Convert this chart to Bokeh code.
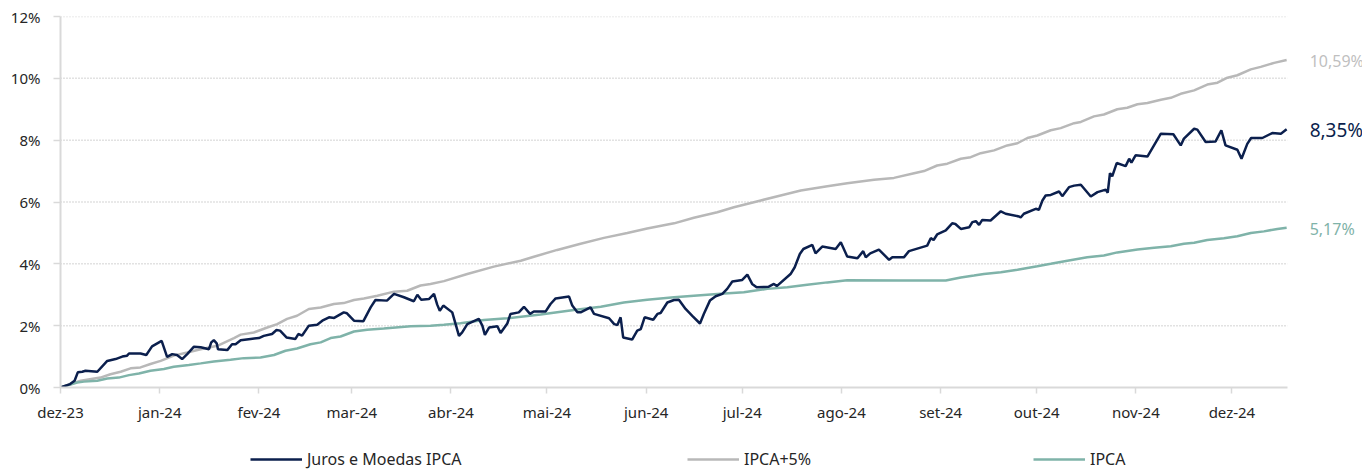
from bokeh.plotting import figure
from bokeh.models import Range1d, FixedTicker, Legend, LegendItem, Label
from bokeh.layouts import column
from bokeh.embed import file_html
from bokeh.resources import INLINE

# ---- data (x = days since 2023-12-01, y = accumulated return in %) ----
month_ticks = [0, 31, 62, 91, 122, 152, 183, 213, 244, 275, 305, 336, 366]
month_labels = ["dez-23", "jan-24", "fev-24", "mar-24", "abr-24", "mai-24", "jun-24",
                "jul-24", "ago-24", "set-24", "out-24", "nov-24", "dez-24"]
y_ticks = [0, 2, 4, 6, 8, 10, 12]
y_labels = ["0%", "2%", "4%", "6%", "8%", "10%", "12%"]

juros_day = [0, 3, 4.4, 5.4, 6.8, 7.8, 11.5, 14.6, 17.2, 19.3,
             20.8, 21.4, 25, 26.8, 28.6, 31.6, 33.3, 34.9, 36.4, 38,
             39.6, 41.7, 43.8, 46.4, 47.1, 47.9, 48.8, 49.2, 52.1, 53.6,
             54.7, 56.3, 59.4, 62, 63.5, 66.1, 67.5, 68.6, 70.6, 73.4,
             74.3, 75.5, 77.6, 80.2, 81.8, 83.9, 85.5, 88.5, 89.5, 91.7,
             94.6, 96.9, 98.4, 102, 104.2, 107.3, 110.4, 111.5, 112.7, 115.1,
             116.7, 117.7, 118.5, 119.6, 122.4, 124.5, 125.5, 127.1, 130.7, 131.8,
             132.6, 133.9, 136.5, 137.5, 139.6, 140.6, 143.2, 144.8, 146.7, 147.9,
             151.6, 153.1, 154.7, 158.9, 159.9, 161.5, 162.5, 165.6, 166.7, 171.4,
             173, 174, 175, 175.8, 178.6, 180.2, 181.3, 182.5, 185.2, 186.5,
             187.5, 189.6, 191.7, 193.2, 195.3, 197.4, 199.8, 201, 202.9, 204.7,
             206.8, 208.3, 209.9, 213, 214.6, 216.1, 217.5, 221.3, 222.9, 223.8,
             228.1, 229.4, 231, 232.1, 234.9, 235.9, 238, 242.2, 243.8, 245.8,
             249, 250.8, 251.6, 253, 255.7, 258.9, 259.9, 263.5, 265.1, 270.8,
             271.9, 272.8, 273.9, 276.6, 278.6, 279.6, 281.3, 283.9, 284.9, 286,
             287, 288, 290.6, 293.8, 295.3, 299.5, 300, 301, 304.7, 305.7,
             306.8, 307.8, 309.4, 312, 313, 315.1, 316.7, 318.8, 321.9, 324,
             326.6, 327.2, 327.9, 328.6, 330, 332.8, 333.9, 334.6, 335.9, 339.6,
             343.8, 347.7, 350, 351, 354.2, 355.2, 357.8, 360.9, 362.7, 364,
             367.7, 369, 370.8, 372, 375.5, 378.6, 381.3, 383.1]
juros_val = [0, 0.11, 0.22, 0.49, 0.51, 0.54, 0.51, 0.86, 0.92, 1.0,
             1.03, 1.1, 1.1, 1.05, 1.33, 1.51, 0.99, 1.08, 1.05, 0.92,
             1.08, 1.32, 1.30, 1.24, 1.46, 1.53, 1.43, 1.24, 1.21, 1.40,
             1.40, 1.53, 1.57, 1.60, 1.67, 1.73, 1.86, 1.84, 1.62, 1.57,
             1.73, 1.68, 2.0, 2.03, 2.16, 2.27, 2.25, 2.43, 2.40, 2.16,
             2.14, 2.59, 2.83, 2.81, 3.03, 2.92, 2.79, 3.0, 2.84, 2.86,
             3.03, 2.68, 2.48, 2.65, 2.43, 1.67, 1.78, 2.05, 2.22, 2.0,
             1.70, 1.94, 1.98, 1.76, 2.07, 2.38, 2.43, 2.61, 2.38, 2.46,
             2.46, 2.70, 2.88, 2.94, 2.65, 2.43, 2.43, 2.59, 2.38, 2.24,
             2.05, 2.02, 2.27, 1.62, 1.55, 1.84, 1.89, 2.27, 2.19, 2.38,
             2.41, 2.75, 2.83, 2.84, 2.54, 2.32, 2.07, 2.38, 2.81, 2.95,
             3.03, 3.19, 3.43, 3.48, 3.65, 3.35, 3.24, 3.26, 3.35, 3.28,
             3.67, 3.89, 4.32, 4.48, 4.61, 4.34, 4.56, 4.48, 4.70, 4.24,
             4.18, 4.41, 4.21, 4.34, 4.46, 4.13, 4.21, 4.21, 4.41, 4.59,
             4.83, 4.77, 4.95, 5.08, 5.31, 5.29, 5.13, 5.18, 5.35, 5.38,
             5.26, 5.42, 5.40, 5.70, 5.62, 5.53, 5.50, 5.62, 5.78, 5.75,
             6.05, 6.21, 6.23, 6.34, 6.19, 6.48, 6.53, 6.56, 6.18, 6.32,
             6.40, 6.30, 6.93, 6.83, 7.26, 7.16, 7.40, 7.27, 7.51, 7.47,
             8.21, 8.19, 7.83, 8.05, 8.37, 8.34, 7.94, 7.96, 8.32, 7.83,
             7.69, 7.40, 7.88, 8.07, 8.07, 8.23, 8.21, 8.35]

ipca5_day = [0, 6.3, 12.5, 15.6, 18.8, 21.9, 25, 28.1, 31.3, 35.4,
             39.6, 43.8, 49, 54.2, 56.3, 60.4, 64.6, 67.7, 70.8, 73.9,
             77.6, 81.3, 85.4, 88.5, 91.7, 94.8, 99, 104.2, 108.3, 112.5,
             115.6, 119.8, 127.1, 135.4, 143.8, 147.9, 155.2, 162.5, 169.8, 177.1,
             183.3, 191.7, 197.9, 205.2, 210.4, 218.8, 225, 231.3, 239.6, 245.8,
             254.2, 260.4, 266.7, 269.8, 273.9, 277.1, 281.3, 284.4, 287.5, 291.7,
             295.8, 299, 302.1, 305.2, 309.4, 312.5, 316.7, 318.8, 322.9, 326,
             330.2, 333.3, 336.5, 339.6, 343.8, 346.9, 350, 354.2, 358.3, 361.5,
             364.6, 367.7, 371.9, 375, 379.2, 383.1]
ipca5_val = [0, 0.22, 0.32, 0.43, 0.51, 0.62, 0.65, 0.76, 0.86, 1.03,
             1.13, 1.24, 1.35, 1.60, 1.71, 1.78, 1.94, 2.05, 2.22, 2.32,
             2.54, 2.59, 2.70, 2.73, 2.83, 2.88, 2.97, 3.10, 3.13, 3.30,
             3.35, 3.44, 3.67, 3.91, 4.10, 4.23, 4.45, 4.65, 4.84, 5.00,
             5.14, 5.31, 5.49, 5.67, 5.83, 6.05, 6.21, 6.37, 6.51, 6.61,
             6.72, 6.78, 6.93, 7.00, 7.18, 7.24, 7.40, 7.45, 7.58, 7.67,
             7.83, 7.90, 8.07, 8.15, 8.32, 8.39, 8.55, 8.59, 8.77, 8.83,
             9.0, 9.05, 9.16, 9.20, 9.31, 9.37, 9.50, 9.61, 9.80, 9.86,
             10.02, 10.10, 10.29, 10.37, 10.50, 10.59]

ipca_day = [0, 5.2, 7.3, 11.5, 14.6, 18.2, 21.4, 24.5, 28.1, 32.3,
            35.4, 40.1, 43.8, 47.9, 53.1, 57.3, 62.5, 66.7, 70.3, 73.9,
            78.1, 81.3, 84.4, 87.5, 91.7, 95.8, 101, 109.4, 115.6, 119.8,
            125, 132.3, 139.6, 150, 160.4, 168.8, 176, 183.3, 191.7, 197.9,
            206.3, 213.5, 220.8, 227.1, 233.3, 239.6, 245.8, 262.5, 276.6, 281.3,
            285.4, 288.5, 293.8, 299, 305.2, 309.4, 314.6, 320.8, 326, 330.2,
            336.5, 341.7, 346.9, 351, 354.2, 358.3, 363.5, 367.7, 371.9, 376,
            380.2, 383.1]
ipca_val = [0, 0.16, 0.19, 0.22, 0.29, 0.32, 0.40, 0.45, 0.54, 0.60,
            0.67, 0.73, 0.78, 0.84, 0.90, 0.95, 0.97, 1.05, 1.19, 1.26,
            1.40, 1.46, 1.60, 1.65, 1.81, 1.87, 1.91, 1.98, 2.00, 2.03,
            2.08, 2.18, 2.24, 2.36, 2.51, 2.61, 2.75, 2.84, 2.92, 2.97,
            3.03, 3.08, 3.19, 3.24, 3.32, 3.40, 3.47, 3.46, 3.46, 3.56,
            3.62, 3.67, 3.73, 3.81, 3.92, 4.00, 4.10, 4.21, 4.27, 4.37,
            4.46, 4.52, 4.57, 4.65, 4.68, 4.77, 4.83, 4.89, 5.00, 5.05,
            5.13, 5.17]

series_names = ["Juros e Moedas IPCA", "IPCA+5%", "IPCA"]
end_labels = ["8,35%", "10,59%", "5,17%"]

# ---- styling ----
NAVY = "#0b1f4d"
GRAY = "#b8b8b8"
TEAL = "#7fb3a9"
FONT = "Noto Sans"
TXT = "#262626"
AXIS_END = 383.4          # where axis line and gridlines stop (days)
VIEW_END = 406.8          # visible x extent (room for end labels)

p = figure(width=1362, height=430, output_backend="svg", toolbar_location=None,
           x_range=Range1d(0, VIEW_END), y_range=Range1d(0, 12),
           min_border_left=60, min_border_right=0, min_border_top=16, min_border_bottom=43)
p.outline_line_color = None
p.background_fill_color = "white"
p.border_fill_color = "white"

p.xgrid.grid_line_color = None
p.ygrid.grid_line_color = None
# dotted horizontal gridlines limited to the axis extent
p.segment(x0=0, x1=AXIS_END, y0=y_ticks[1:], y1=y_ticks[1:],
          line_color="#c4c4c4", line_dash="1 2", line_width=1.5)

p.xaxis.ticker = FixedTicker(ticks=month_ticks)
p.xaxis.major_label_overrides = {t: l for t, l in zip(month_ticks, month_labels)}
p.xaxis.bounds = (0, AXIS_END)
p.yaxis.ticker = FixedTicker(ticks=y_ticks)
p.yaxis.major_label_overrides = {t: l for t, l in zip(y_ticks, y_labels)}

for ax in (p.xaxis, p.yaxis):
    ax.axis_line_color = "#d9d9d9"
    ax.axis_line_width = 2
    ax.major_tick_line_color = "#d9d9d9"
    ax.major_tick_line_width = 1.5
    ax.major_tick_in = 0
    ax.minor_tick_line_color = None
    ax.major_label_text_font = FONT
    ax.major_label_text_font_size = "15px"
    ax.major_label_text_color = TXT
p.xaxis.major_tick_out = 6
p.xaxis.major_label_standoff = 8
p.yaxis.major_tick_out = 7
p.yaxis.major_label_standoff = 13

r_gray = p.line(ipca5_day, ipca5_val, line_color=GRAY, line_width=2.5)
r_teal = p.line(ipca_day, ipca_val, line_color=TEAL, line_width=2.5)
r_navy = p.line(juros_day, juros_val, line_color=NAVY, line_width=2.5)

# end-of-line value labels
for xs, ys, txt, col, size in [(juros_day, juros_val, end_labels[0], NAVY, "19px"),
                                (ipca5_day, ipca5_val, end_labels[1], "#bfbfbf", "16px"),
                                (ipca_day, ipca_val, end_labels[2], TEAL, "16px")]:
    p.add_layout(Label(x=xs[-1], y=ys[-1], text=txt, x_offset=23, y_offset=-1,
                       text_baseline="middle", text_align="left",
                       text_font=FONT, text_font_size=size, text_color=col))

# ---- legend strip (separate small figure below the chart; frames are aligned) ----
lg = figure(width=1362, height=39, output_backend="svg", toolbar_location=None,
            x_range=Range1d(0, 1), y_range=Range1d(0, 1),
            x_axis_type=None, y_axis_type=None,
            min_border_left=0, min_border_right=0, min_border_top=0, min_border_bottom=0)
lg.outline_line_color = None
lg.xgrid.grid_line_color = None
lg.ygrid.grid_line_color = None

for name, col, xpos in [(series_names[0], NAVY, 190),
                        (series_names[1], GRAY, 627),
                        (series_names[2], TEAL, 973)]:
    # proxy line kept outside the visible range: only its legend swatch shows
    rr = lg.line(x=[0, 1], y=[-5, -5], line_color=col, line_width=2.5)
    leg = Legend(items=[LegendItem(label=name, renderers=[rr])],
                 location=(xpos, -1), orientation="horizontal",
                 padding=0, margin=0, spacing=0,
                 glyph_width=52, glyph_height=16, label_height=16,
                 label_standoff=5, background_fill_alpha=0, border_line_color=None,
                 label_text_font=FONT, label_text_font_size="16px",
                 label_text_color=TXT)
    lg.add_layout(leg, "center")

open("out.html", "w").write(file_html(column(p, lg, spacing=0), INLINE))
